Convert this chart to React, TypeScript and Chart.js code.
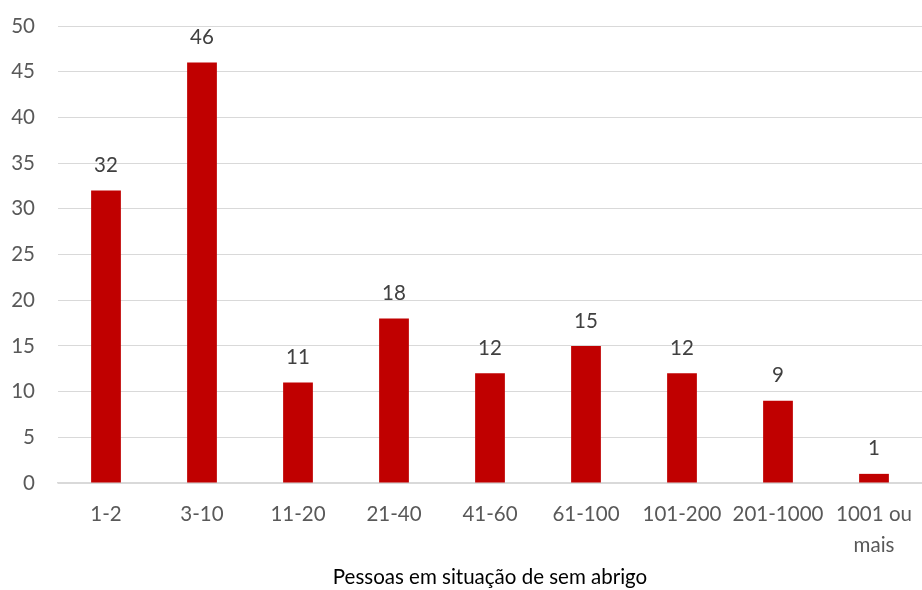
import React, { useEffect, useRef } from "react";
import { Chart, registerables } from "chart.js";

Chart.register(...registerables);

const categories: (string | string[])[] = [
  "1-2",
  "3-10",
  "11-20",
  "21-40",
  "41-60",
  "61-100",
  "101-200",
  "201-1000",
  ["1001 ou", "mais"],
];
const counts = [32, 46, 11, 18, 12, 15, 12, 9, 1];
const yTicks = [0, 5, 10, 15, 20, 25, 30, 35, 40, 45, 50];
const axisTitle = "Pessoas em situação de sem abrigo";

const FONT = "Lato, 'Open Sans', sans-serif";
const TEXT = "#595959";
const SIZE = 20.5;

// Writes each bar's value just above it
const valueLabels = {
  id: "valueLabels",
  afterDatasetsDraw(chart: any) {
    const ctx = chart.ctx;
    const meta = chart.getDatasetMeta(0);
    ctx.save();
    ctx.font = `${SIZE}px ${FONT}`;
    ctx.fillStyle = "#404040";
    ctx.textAlign = "center";
    ctx.textBaseline = "middle";
    meta.data.forEach((bar: any, i: number) => {
      ctx.fillText(String(counts[i]), bar.x, bar.y - 25);
    });
    ctx.restore();
  },
};

export default function App() {
  const canvasRef = useRef<HTMLCanvasElement>(null);

  useEffect(() => {
    document.body.style.margin = "0";
    const chart = new Chart(canvasRef.current!, {
      type: "bar",
      data: {
        labels: categories as any,
        datasets: [
          {
            data: counts,
            backgroundColor: "#C00000",
            borderWidth: 0,
            barPercentage: 0.31,
            categoryPercentage: 1,
          },
        ],
      },
      options: {
        animation: false,
        responsive: false,
        layout: { padding: { top: 26, left: 0, right: 0, bottom: 0 } },
        plugins: {
          legend: { display: false },
          tooltip: { enabled: false },
        },
        scales: {
          x: {
            grid: { display: false, drawTicks: false },
            border: { display: true, color: "#D9D9D9", width: 1.5 },
            ticks: {
              color: TEXT,
              font: { family: FONT, size: SIZE, lineHeight: 1.5 },
              padding: 16,
              maxRotation: 0,
              autoSkip: false,
            },
            title: {
              display: true,
              text: axisTitle,
              color: "#000000",
              font: { family: FONT, size: SIZE, lineHeight: 1.2 },
              padding: { top: 0, bottom: 0 },
            },
            afterFit(scale: any) {
              scale.height = 107;
              scale.paddingLeft = 0;
              scale.paddingRight = 0;
            },
          },
          y: {
            min: 0,
            max: 50,
            afterBuildTicks(scale: any) {
              scale.ticks = yTicks.map((v) => ({ value: v }));
            },
            grid: { color: "#D9D9D9", lineWidth: 1, drawTicks: false },
            border: { display: false },
            ticks: {
              color: TEXT,
              font: { family: FONT, size: SIZE },
              padding: 23,
            },
            afterFit(scale: any) {
              scale.width = 58;
              scale.paddingTop = 0;
              scale.paddingBottom = 0;
            },
          },
        },
      },
      plugins: [valueLabels],
    });
    return () => chart.destroy();
  }, []);

  return (
    <div style={{ width: 922, height: 590, background: "#ffffff" }}>
      <canvas ref={canvasRef} width={922} height={590} />
    </div>
  );
}
